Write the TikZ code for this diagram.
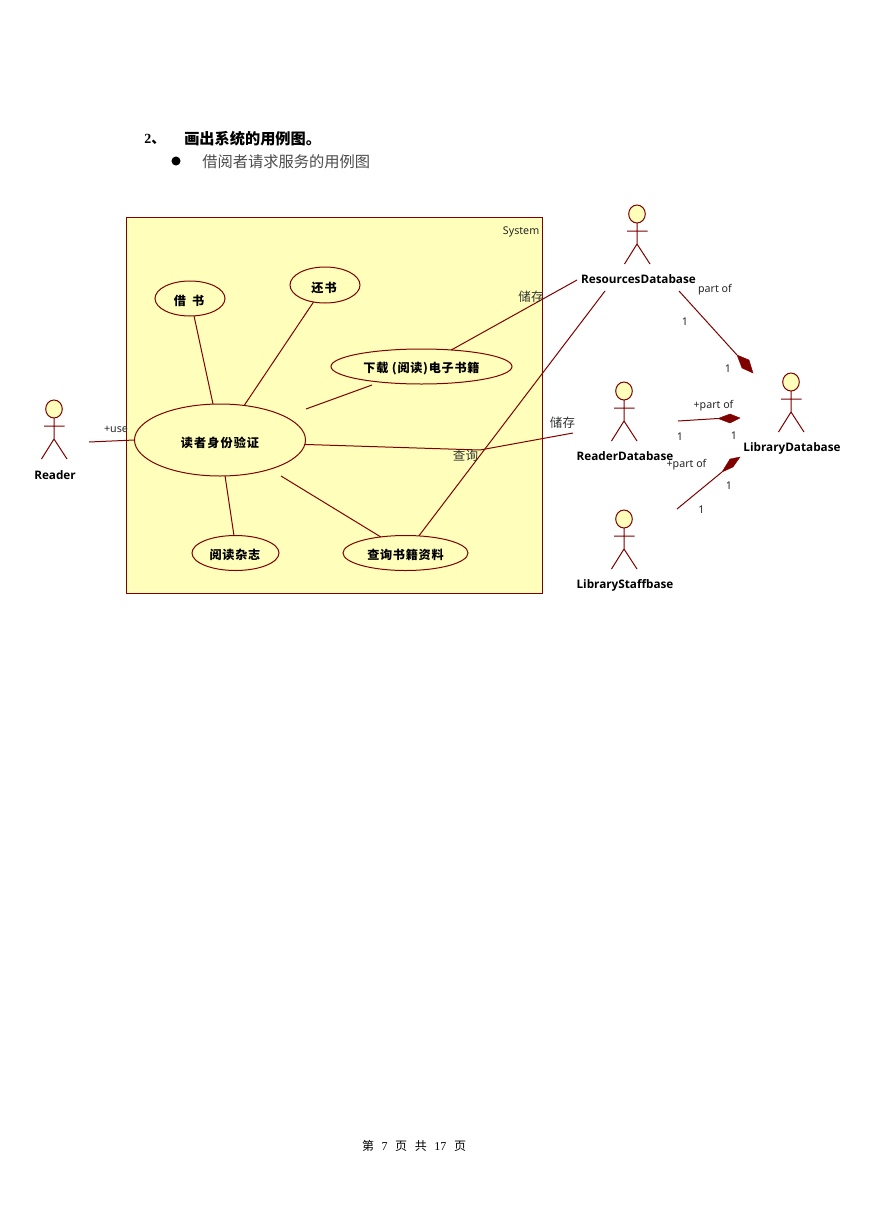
\documentclass[tikz,border=0pt]{standalone}
\usepackage{fontspec}
\setmainfont{Liberation Serif}
\setsansfont{Noto Sans}
\newfontfamily\cjk{Noto Sans CJK SC}
\newfontfamily\namefont{Open Sans}
\usetikzlibrary{shapes.geometric}
\definecolor{umlline}{HTML}{800000}
\definecolor{umlfill}{HTML}{FFFFBB}
\tikzset{
  conn/.style={draw=umlline,line width=0.75pt},
  usecase/.style={ellipse,draw=umlline,fill=umlfill,line width=0.75pt,inner sep=0pt,outer sep=0pt},
  uctext/.style={inner sep=0pt,font=\cjk\bfseries\fontsize{9.1}{10}\selectfont},
  actorname/.style={font=\namefont\bfseries\fontsize{8.8}{10}\selectfont,inner sep=0pt,text=black},
  lbl/.style={font=\sffamily\fontsize{8}{10}\selectfont,inner sep=0pt,text=black!85},
  cnlbl/.style={font=\cjk\fontsize{9.4}{11}\selectfont,inner sep=0pt,text=black!80},
  actor/.pic={
    \draw[conn,fill=umlfill] (0,0) ellipse [x radius=8.3,y radius=9];
    \draw[conn] (0,9) -- (0,30) (-10,17) -- (10.5,17) (-12.5,50) -- (0,30) -- (13,50);
  },
  comp/.style={fill=umlline,draw=umlline,line width=0.3pt}
}
\begin{document}
\begin{tikzpicture}[x=0.75pt,y=-0.75pt]
\useasboundingbox (0,0) rectangle (869,1228);
\fill[white] (0,0) rectangle (869,1228);
% heading
\node[anchor=west,inner sep=0pt,font=\bfseries\fontsize{10.5}{12}\selectfont] (hnum) at (144,139) {2\cjk、};
\node[anchor=west,inner sep=0pt,font=\cjk\bfseries\fontsize{11.4}{12}\selectfont] (htitle) at (184,139) {画出系统的用例图。};
\node[circle,fill=black,inner sep=0pt,minimum size=6.8pt] (bullet) at (176,161) {};
\node[anchor=west,inner sep=0pt,font=\cjk\fontsize{11.45}{13}\selectfont,text=black!70] (hsub) at (202,161.5) {借阅者请求服务的用例图};
% system
\node[draw=umlline,fill=umlfill,line width=0.75pt,minimum width=312pt,minimum height=282pt,inner sep=0pt,outer sep=0pt] (sys) at (334.5,405.5) {};
\node[lbl,anchor=east] (systxt) at (539.5,231.5) {System};
% use cases
\node[usecase,minimum width=128.25pt,minimum height=54pt] (main) at (220,440) {};
\node[usecase,minimum width=52.5pt,minimum height=26.25pt] (jie) at (190,298.5) {};
\node[usecase,minimum width=52.5pt,minimum height=27pt] (huan) at (325,285) {};
\node[usecase,minimum width=135.75pt,minimum height=26.25pt] (down) at (421.5,366.5) {};
\node[usecase,minimum width=65.25pt,minimum height=26.25pt] (mag) at (235.5,553) {};
\node[usecase,minimum width=93.75pt,minimum height=26.25pt] (query) at (405.5,553) {};
\node[uctext] (tmain) at (220,443) {\addfontfeatures{LetterSpace=9}读者身份验证};
\node[uctext] (tjie) at (189,301) {借\,\,\,书};
\node[uctext] (thuan) at (324,288) {\addfontfeatures{LetterSpace=9}还书};
\node[uctext] (tdown) at (421.5,369) {\addfontfeatures{LetterSpace=6}下载 (阅读)电子书籍};
\node[uctext] (tmag) at (235,555) {\addfontfeatures{LetterSpace=6}阅读杂志};
\node[uctext] (tquery) at (405.5,555) {\addfontfeatures{LetterSpace=6}查询书籍资料};
% actors
\pic at (54,409) {actor};
\pic at (637,214) {actor};
\pic at (624,391) {actor};
\pic at (791,382) {actor};
\pic at (624,519) {actor};
\node[actorname] (nReader) at (55,475) {Reader};
\node[actorname] (nRes) at (638.5,279) {ResourcesDatabase};
\node[actorname] (nRd) at (625,456) {ReaderDatabase};
\node[actorname] (nLib) at (792,448.5) {LibraryDatabase};
\node[actorname] (nStaff) at (625,585.5) {LibraryStaffbase};
% free ends
\coordinate (a1) at (89,442);
\coordinate (a2) at (306,409);
\coordinate (a3) at (372,385);
\coordinate (a4) at (281,476);
\coordinate (a5) at (577,280);
\coordinate (a6) at (605,291);
\coordinate (a7) at (573,433);
\coordinate (bend) at (480,450);
\coordinate (b1) at (679,291);
\coordinate (b2) at (737,355);
\coordinate (b3) at (678,421);
\coordinate (b4) at (718,418.5);
\coordinate (b5) at (677,509);
\coordinate (b6) at (722,472);
% connectors
\draw[conn] (jie.-77) -- (main.101);
\draw[conn] (huan.-124) -- (main.55);
\draw[conn] (a2) -- (a3);
\draw[conn] (main.-82) -- (mag.95);
\draw[conn] (a4) -- (query.147);
\draw[conn] (down.29) -- (a5);
\draw[conn] (query.52) -- (a6);
\draw[conn] (main.-3) -- (bend) -- (a7);
\draw[conn] (a1) -- (main.180);
\draw[conn] (b1) -- (b2);
\draw[conn] (b3) -- (b4);
\draw[conn] (b5) -- (b6);
% aggregation diamonds
\fill[comp] (b2) -- (749,360) -- (753,373) -- (742,368) -- cycle;
\fill[comp] (b4) -- (730,414) -- (740,418) -- (730,423) -- cycle;
\fill[comp] (b6) -- (730,459) -- (740,457) -- (733,467) -- cycle;
% labels
\node[lbl] (l1) at (116,429) {+use};
\node[cnlbl] (l2) at (531,296.5) {储存};
\node[cnlbl] (l3) at (562.5,422.5) {储存};
\node[cnlbl] (l4) at (465.5,455.5) {查询};
\node[lbl] (l5) at (715,290) {part of};
\node[lbl] (l6) at (685,321.5) {1};
\node[lbl] (l7) at (728,368.5) {1};
\node[lbl] (l8) at (713.5,406) {+part of};
\node[lbl] (l9) at (680,436.5) {1};
\node[lbl] (l10) at (734,435.5) {1};
\node[lbl] (l11) at (686.5,465) {+part of};
\node[lbl] (l12) at (729,485.5) {1};
\node[lbl] (l13) at (701.5,509.5) {1};
% footer
\node[inner sep=0pt,font=\fontsize{9}{11}\selectfont] (foot) at (414,1146) {\cjk 第\hspace{5.7pt}\rmfamily 7\hspace{5.7pt}\cjk 页\hspace{5.7pt}共\hspace{5.7pt}\rmfamily 17\hspace{5.7pt}\cjk 页};
\end{tikzpicture}
\end{document}
